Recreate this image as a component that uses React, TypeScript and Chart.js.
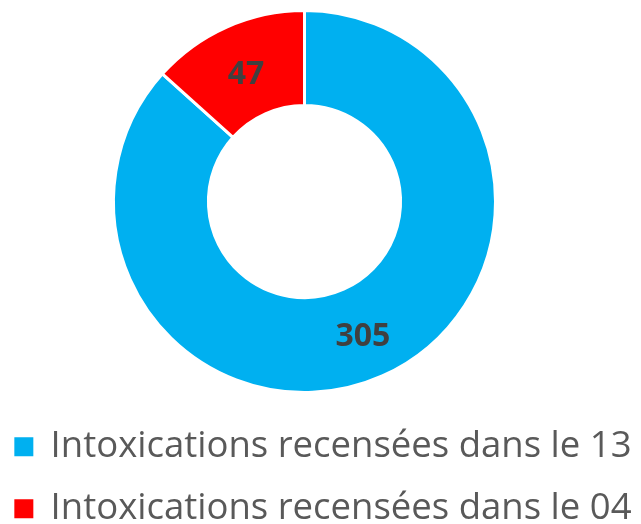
import React, { useEffect, useRef } from 'react';
import { Chart, registerables } from 'chart.js';

Chart.register(...registerables);

const categories = ['Intoxications recensées dans le 13', 'Intoxications recensées dans le 04'];
const values = [305, 47];
const colors = ['#00B0F0', '#FF0000'];

const valueLabels = {
  id: 'valueLabels',
  afterDatasetsDraw(chart: any) {
    const ctx = chart.ctx;
    const meta = chart.getDatasetMeta(0);
    ctx.save();
    ctx.font = 'bold 32px "Open Sans"';
    ctx.fillStyle = '#404040';
    ctx.textAlign = 'center';
    ctx.textBaseline = 'middle';
    meta.data.forEach((arc: any, i: number) => {
      const p = arc.tooltipPosition(false);
      ctx.fillText(String(values[i]), p.x, p.y + 4);
    });
    ctx.restore();
  },
};

export default function App() {
  const ref = useRef<HTMLCanvasElement | null>(null);

  useEffect(() => {
    document.body.style.margin = '0';
    const canvas = ref.current;
    if (!canvas) return;
    const chart = new Chart(canvas, {
      type: 'doughnut',
      data: {
        labels: categories,
        datasets: [
          {
            data: values,
            backgroundColor: colors,
            borderColor: '#FFFFFF',
            borderWidth: 3,
            radius: 191,
            cutout: '50.3%',
          } as any,
        ],
      },
      options: {
        animation: false,
        responsive: true,
        maintainAspectRatio: false,
        layout: { padding: 0 },
        plugins: {
          tooltip: { enabled: false },
          legend: {
            position: 'bottom',
            align: 'end',
            labels: {
              font: { family: '"Open Sans"', size: 36.5 },
              color: '#595959',
              boxWidth: 17,
              boxHeight: 17,
              padding: 25.5,
              generateLabels: () =>
                categories.map((c, i) => ({
                  text: c,
                  fillStyle: colors[i],
                  strokeStyle: colors[i],
                  lineWidth: 2,
                  fontColor: '#595959',
                  hidden: false,
                  index: i,
                })),
            },
          },
        },
      },
      plugins: [valueLabels],
    });
    return () => chart.destroy();
  }, []);

  return (
    <div style={{ position: 'fixed', left: 0, top: 0, width: 641, height: 524, overflow: 'hidden', background: '#fff' }}>
      <div style={{ position: 'absolute', left: -48, top: 0, width: 705, height: 537 }}>
        <canvas ref={ref} />
      </div>
    </div>
  );
}
